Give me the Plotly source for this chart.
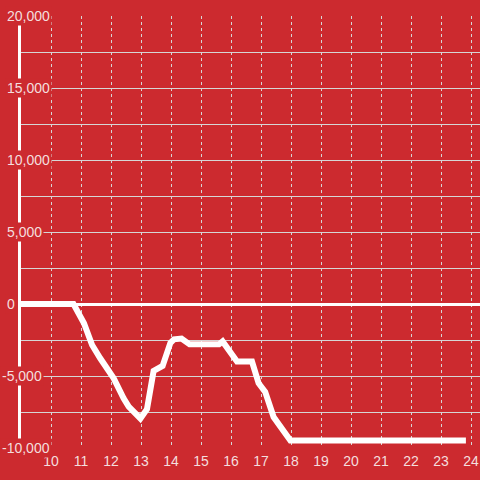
import plotly.graph_objects as go

# ---- data (hours of day vs. running balance) ----
hours = [9.0, 10.75, 11.1, 11.37, 11.64, 12.09, 12.42, 12.59, 12.98, 13.2, 13.42, 13.72,
         13.98, 14.1, 14.35, 14.62, 15.6, 15.72, 16.2, 16.7, 16.92, 17.14, 17.42, 17.7,
         17.98, 23.83]
balance = [0, 0, -1340, -2850, -3770, -5160, -6550, -7130, -7950, -7300, -4650, -4300,
           -2700, -2450, -2400, -2800, -2800, -2600, -4000, -4000, -5500, -6100, -7850, -8750,
           -9480, -9480]

x_ticks = list(range(10, 25))
x_labels = [str(v) for v in x_ticks]
y_ticks = [-10000, -5000, 0, 5000, 10000, 15000, 20000]
y_labels = ["-10,000", "-5,000", "0", "5,000", "10,000", "15,000", "20,000"]

BG = "#cc2a2f"
TXT = "#f4dede"
GRID = "#d6d6d6"
FONT = "Liberation Sans, Arial, sans-serif"

fig = go.Figure(
    go.Scatter(x=hours, y=balance, mode="lines",
               line=dict(color="white", width=6), hoverinfo="skip")
)

fig.update_layout(
    width=480, height=480,
    margin=dict(l=21, r=0, t=16, b=32, autoexpand=False),
    paper_bgcolor=BG, plot_bgcolor=BG,
    showlegend=False,
    font=dict(family=FONT, size=14, color=TXT),
)

fig.update_xaxes(
    range=[9, 24.3], tickmode="array", tickvals=x_ticks, ticktext=x_labels,
    showgrid=True, gridcolor=GRID, gridwidth=1, griddash="dot",
    zeroline=False, showline=False, ticks="", automargin=False,
    ticklabelstandoff=3,
    tickfont=dict(family=FONT, size=14, color=TXT),
)

fig.update_yaxes(
    range=[-10000, 20000], tick0=0, dtick=2500, showticklabels=False,
    showgrid=True, gridcolor=GRID, gridwidth=1, automargin=False,
    zeroline=True, zerolinecolor="white", zerolinewidth=3,
    showline=True, linecolor="white", linewidth=3, ticks="",
)

for v, t in zip(y_ticks, y_labels):
    fig.add_annotation(
        x=0, xref="paper", y=v, yref="y", text=t, showarrow=False,
        xanchor="left", yanchor="middle",
        xshift=-16 - (5 if t.startswith("-") else 0),
        bgcolor=BG, borderpad=1,
        font=dict(family=FONT, size=14, color=TXT),
    )

fig.write_html(
    "out.html",
    config={"displayModeBar": False},
    post_script="document.body.style.margin='0';document.body.style.background='%s';" % BG,
)
